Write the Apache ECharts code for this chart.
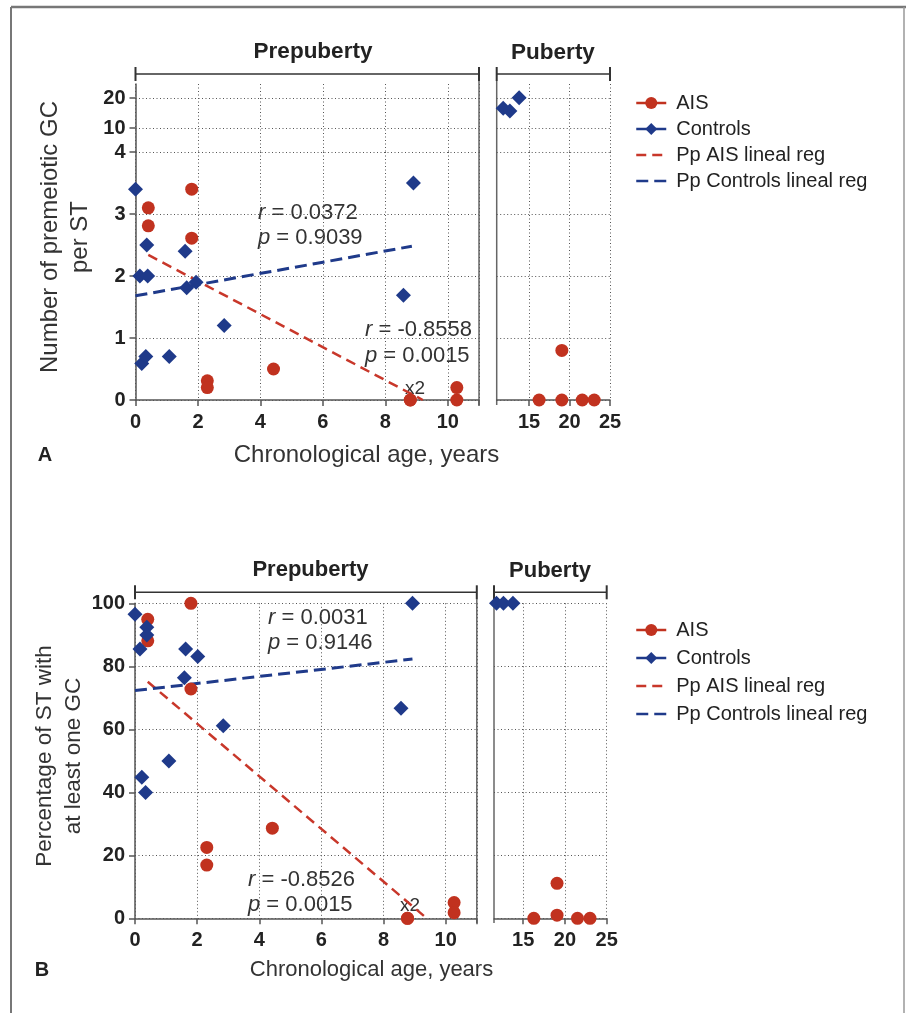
<!DOCTYPE html>
<html>
<head>
<meta charset="utf-8">
<script src="https://cdn.jsdelivr.net/npm/echarts@6.0.0/dist/echarts.min.js"></script>
<style>
  html, body { margin: 0; padding: 0; background: #fff; }
  #chart { width: 906px; height: 1013px; }
</style>
</head>
<body>
<div id="chart"></div>
<script>
// ---- data ----
// A: number of premeiotic GC per ST
const ageAisA = [0.41, 0.41, 1.80, 1.80, 2.30, 2.30, 4.42, 8.80, 8.80, 10.29, 10.29];
const gcAisA = [3.10, 2.81, 3.40, 2.61, 0.31, 0.20, 0.50, 0, 0, 0.20, 0];
const ageCtrlA = [0, 0.14, 0.39, 0.36, 0.20, 0.33, 1.08, 1.59, 1.64, 1.94, 2.84, 8.58, 8.90];
const gcCtrlA = [3.40, 2.00, 2.00, 2.50, 0.59, 0.70, 0.70, 2.40, 1.81, 1.90, 1.20, 1.69, 3.50];
const ageAisPubA = [16.24, 19.05, 19.05, 21.57, 23.05];
const gcAisPubA = [0, 0.80, 0, 0, 0];
const ageCtrlPubA = [11.80, 12.63, 13.77];
const gcCtrlPubA = [16.6, 15.7, 20.1];
const regAgeAisA = [0.41, 9.2];
const regGcAisA = [2.34, 0];
const regAgeCtrlA = [0, 8.85];
const regGcCtrlA = [1.68, 2.48];

// B: percentage of ST with at least one GC
const ageAisB = [0.41, 0.41, 1.80, 1.80, 2.31, 2.31, 4.42, 8.77, 8.77, 10.27, 10.27];
const pctAisB = [94.9, 88.1, 100, 72.8, 22.5, 16.9, 28.6, 0, 0, 5.0, 1.8];
const ageCtrlB = [0, 0.16, 0.38, 0.38, 0.22, 0.34, 1.09, 1.63, 1.59, 2.02, 2.84, 8.56, 8.93];
const pctCtrlB = [96.5, 85.5, 92.4, 89.9, 44.8, 39.9, 49.9, 85.5, 76.4, 83.1, 61.1, 66.7, 100];
const ageAisPubB = [16.27, 19.05, 19.05, 21.5, 23.0];
const pctAisPubB = [0, 11.1, 1.0, 0, 0];
const ageCtrlPubB = [11.80, 12.63, 13.77];
const pctCtrlPubB = [100, 100, 100];
const regAgeAisB = [0.41, 9.39];
const regPctAisB = [75.1, 0];
const regAgeCtrlB = [0, 8.93];
const regPctCtrlB = [72.3, 82.3];

// tick labels
const upperTicksA = [10, 20];
const pubTicks = [15, 20, 25];

const RED = '#c1321f';
const BLUE = '#1f3a8a';
const AXIS = '#555';
const FONT = '"Liberation Sans", Arial, Helvetica, sans-serif';

const zip = (xs, ys) => xs.map((x, i) => [x, ys[i]]);

const dotted = { show: true, lineStyle: { color: '#555', type: [1, 2.5], width: 1 } };
const tickOut = { show: true, inside: false, length: 6, lineStyle: { color: AXIS, width: 1.5 } };
const axLine = { show: true, lineStyle: { color: AXIS, width: 1.5 } };
const lbl = (size) => ({ color: '#222', fontWeight: 'bold', fontSize: size, fontFamily: FONT });

function hidden(gridIndex, extra) {
  return Object.assign({
    type: 'value', gridIndex: gridIndex,
    axisLine: { show: false }, axisTick: { show: false }, axisLabel: { show: false },
    splitLine: dotted
  }, extra);
}

const chart = echarts.init(document.getElementById('chart'));

function pts(name, xi, yi, data, symbol, size, color) {
  return {
    type: 'line', name: name, xAxisIndex: xi, yAxisIndex: yi,
    data: data, symbol: symbol, symbolSize: size, clip: false, z: 4,
    itemStyle: { color: color }, lineStyle: { color: color, width: 2, opacity: 0 },
    emphasis: { disabled: true }
  };
}
function reg(name, xi, yi, data, color, width, dash) {
  return {
    type: 'line', name: name, xAxisIndex: xi, yAxisIndex: yi,
    data: data, symbol: 'none', clip: false, z: 3,
    itemStyle: { color: color },
    lineStyle: { color: color, width: width, type: dash }
  };
}

function legendAt(top, gap) {
  return {
    orient: 'vertical', left: 630, top: top, itemWidth: 30, itemHeight: 15, itemGap: gap,
    textStyle: { fontSize: 20, color: '#222', fontFamily: FONT, padding: [0, 0, 0, 5] },
    data: [
      { name: 'AIS', itemStyle: { opacity: 1 }, lineStyle: { opacity: 1, width: 2.5 } },
      { name: 'Controls', itemStyle: { opacity: 1 }, lineStyle: { opacity: 1, width: 2.5 } },
      { name: 'Pp AIS lineal reg', itemStyle: { opacity: 0 }, lineStyle: { width: 2.5 } },
      { name: 'Pp Controls lineal reg', itemStyle: { opacity: 0 }, lineStyle: { width: 2.5 } }
    ]
  };
}

function ln(x1, y1, x2, y2, w, c) {
  return { type: 'line', silent: true, shape: { x1: x1, y1: y1, x2: x2, y2: y2 },
    style: { stroke: c || '#333', lineWidth: w || 1.5 } };
}
function tx(x, y, text, size, opt) {
  return { type: 'text', silent: true, x: x, y: y, rotation: (opt && opt.rot) || 0,
    style: Object.assign({ text: text, fontSize: size, fontFamily: FONT, fill: '#222',
      align: 'center', verticalAlign: 'middle' }, (opt && opt.style) || {}) };
}
function note(x, y, text, size) {
  return tx(x, y, text, size, { style: { align: 'left', fill: '#333',
    rich: { i: { fontStyle: 'italic', fontSize: size, fontFamily: FONT, fill: '#333' } } } });
}
function bracket(x1, x2, y) {
  return [ln(x1, y, x2, y, 1.5), ln(x1, y - 7, x1, y + 7, 2), ln(x2, y - 7, x2, y + 7, 2)];
}

const graphics = [
  ln(11, 7, 906, 7, 2.5, '#777'), ln(11, 7, 11, 1013, 2, '#777'), ln(904, 7, 904, 1013, 1.5, '#999'),
  ...bracket(135.5, 479, 74), ...bracket(496.7, 610, 74),
  ln(479, 81, 479, 405, 1.5, '#666'), ln(496.7, 81, 496.7, 405, 1.5, '#666'),
  ...bracket(135, 476.8, 592.3), ...bracket(494, 606.7, 592.3),
  ln(476.8, 599, 476.8, 923, 1.5, '#666'), ln(494, 599, 494, 923, 1.5, '#666'),
  tx(313, 52, 'Prepuberty', 22.5, { style: { fontWeight: 'bold' } }),
  tx(553, 53, 'Puberty', 22.5, { style: { fontWeight: 'bold' } }),
  tx(310.5, 570, 'Prepuberty', 22, { style: { fontWeight: 'bold' } }),
  tx(550, 571, 'Puberty', 22, { style: { fontWeight: 'bold' } }),
  tx(366.5, 455, 'Chronological age, years', 24, { style: { fill: '#333' } }),
  tx(371.5, 970, 'Chronological age, years', 22, { style: { fill: '#333' } }),
  tx(65, 237, 'Number of premeiotic GC\nper ST', 24, { rot: Math.PI / 2, style: { fill: '#333', lineHeight: 30 } }),
  tx(59, 756, 'Percentage of ST with\nat least one GC', 22.5, { rot: Math.PI / 2, style: { fill: '#333', lineHeight: 29 } }),
  tx(45, 455, 'A', 20, { style: { fontWeight: 'bold' } }),
  tx(42, 970, 'B', 20, { style: { fontWeight: 'bold' } }),
  note(258, 213, '{i|r} = 0.0372', 22), note(258, 238, '{i|p} = 0.9039', 22),
  note(365, 330, '{i|r} = -0.8558', 22), note(365, 356, '{i|p} = 0.0015', 22),
  note(405, 389, 'x2', 19),
  note(268, 618, '{i|r} = 0.0031', 22), note(268, 643, '{i|p} = 0.9146', 22),
  note(248, 880, '{i|r} = -0.8526', 22), note(248, 905, '{i|p} = 0.0015', 22),
  note(400, 906, 'x2', 19)
];

const option = {
  animation: false,
  backgroundColor: '#fff',
  textStyle: { fontFamily: FONT },
  tooltip: { trigger: 'item' },
  legend: [legendAt(88, 6), legendAt(615, 8)],
  grid: [
    { left: 135.5, top: 152, width: 343.5, height: 248 },  // A prepuberty 0-4
    { left: 135.5, top: 84, width: 343.5, height: 68 },    // A prepuberty 10-20
    { left: 496.7, top: 152, width: 113.3, height: 248 },  // A puberty 0-4
    { left: 496.7, top: 84, width: 113.3, height: 68 },    // A puberty 10-20
    { left: 135, top: 603.3, width: 341.8, height: 315 },  // B prepuberty
    { left: 494, top: 603.3, width: 112.7, height: 315 }   // B puberty
  ],
  xAxis: [
    { type: 'value', gridIndex: 0, min: 0, max: 11, interval: 2,
      axisLine: axLine, axisTick: tickOut, splitLine: dotted,
      axisLabel: Object.assign(lbl(20), { margin: 12, formatter: v => (v > 10 ? '' : v) }) },
    hidden(1, { min: 0, max: 11, interval: 2 }),
    { type: 'value', gridIndex: 2, min: 11, max: 25,
      axisLine: axLine, axisTick: Object.assign({ customValues: pubTicks }, tickOut), splitLine: dotted,
      axisLabel: Object.assign(lbl(20), { margin: 12, customValues: pubTicks }) },
    hidden(3, { min: 11, max: 25, axisTick: { show: false, customValues: pubTicks } }),
    { type: 'value', gridIndex: 4, min: 0, max: 11, interval: 2,
      axisLine: axLine, axisTick: tickOut, splitLine: dotted,
      axisLabel: Object.assign(lbl(20), { margin: 12, formatter: v => (v > 10 ? '' : v) }) },
    { type: 'value', gridIndex: 5, min: 11.5, max: 25,
      axisLine: axLine, axisTick: Object.assign({ customValues: pubTicks }, tickOut), splitLine: dotted,
      axisLabel: Object.assign(lbl(20), { margin: 12, customValues: pubTicks }) }
  ],
  yAxis: [
    { type: 'value', gridIndex: 0, min: 0, max: 4, interval: 1,
      axisLine: axLine, axisTick: tickOut, splitLine: dotted,
      axisLabel: Object.assign(lbl(20), { margin: 10 }) },
    { type: 'value', gridIndex: 1, min: 2, max: 24.67,
      axisLine: axLine, axisTick: Object.assign({ customValues: upperTicksA }, tickOut), splitLine: dotted,
      axisLabel: Object.assign(lbl(20), { margin: 10, customValues: upperTicksA }) },
    hidden(2, { min: 0, max: 4, interval: 1 }),
    hidden(3, { min: 2, max: 24.67, axisTick: { show: false, customValues: upperTicksA } }),
    { type: 'value', gridIndex: 4, min: 0, max: 100, interval: 20,
      axisLine: axLine, axisTick: tickOut, splitLine: dotted,
      axisLabel: Object.assign(lbl(20), { margin: 10 }) },
    hidden(5, { min: 0, max: 100, interval: 20 })
  ],
  series: [
    reg('Pp AIS lineal reg', 0, 0, zip(regAgeAisA, regGcAisA), '#c8372a', 2.5, [10, 6]),
    reg('Pp Controls lineal reg', 0, 0, zip(regAgeCtrlA, regGcCtrlA), BLUE, 3, [12, 6]),
    pts('AIS', 0, 0, zip(ageAisA, gcAisA), 'circle', 13, RED),
    pts('Controls', 0, 0, zip(ageCtrlA, gcCtrlA), 'diamond', 15, BLUE),
    pts('AIS', 2, 2, zip(ageAisPubA, gcAisPubA), 'circle', 13, RED),
    pts('Controls', 3, 3, zip(ageCtrlPubA, gcCtrlPubA), 'diamond', 15, BLUE),

    reg('Pp AIS lineal reg', 4, 4, zip(regAgeAisB, regPctAisB), '#c8372a', 2.5, [10, 6]),
    reg('Pp Controls lineal reg', 4, 4, zip(regAgeCtrlB, regPctCtrlB), BLUE, 3, [12, 6]),
    pts('AIS', 4, 4, zip(ageAisB, pctAisB), 'circle', 13, RED),
    pts('Controls', 4, 4, zip(ageCtrlB, pctCtrlB), 'diamond', 15, BLUE),
    pts('AIS', 5, 5, zip(ageAisPubB, pctAisPubB), 'circle', 13, RED),
    pts('Controls', 5, 5, zip(ageCtrlPubB, pctCtrlPubB), 'diamond', 15, BLUE)
  ],
  graphic: graphics
};

chart.setOption(option);
</script>
</body>
</html>
